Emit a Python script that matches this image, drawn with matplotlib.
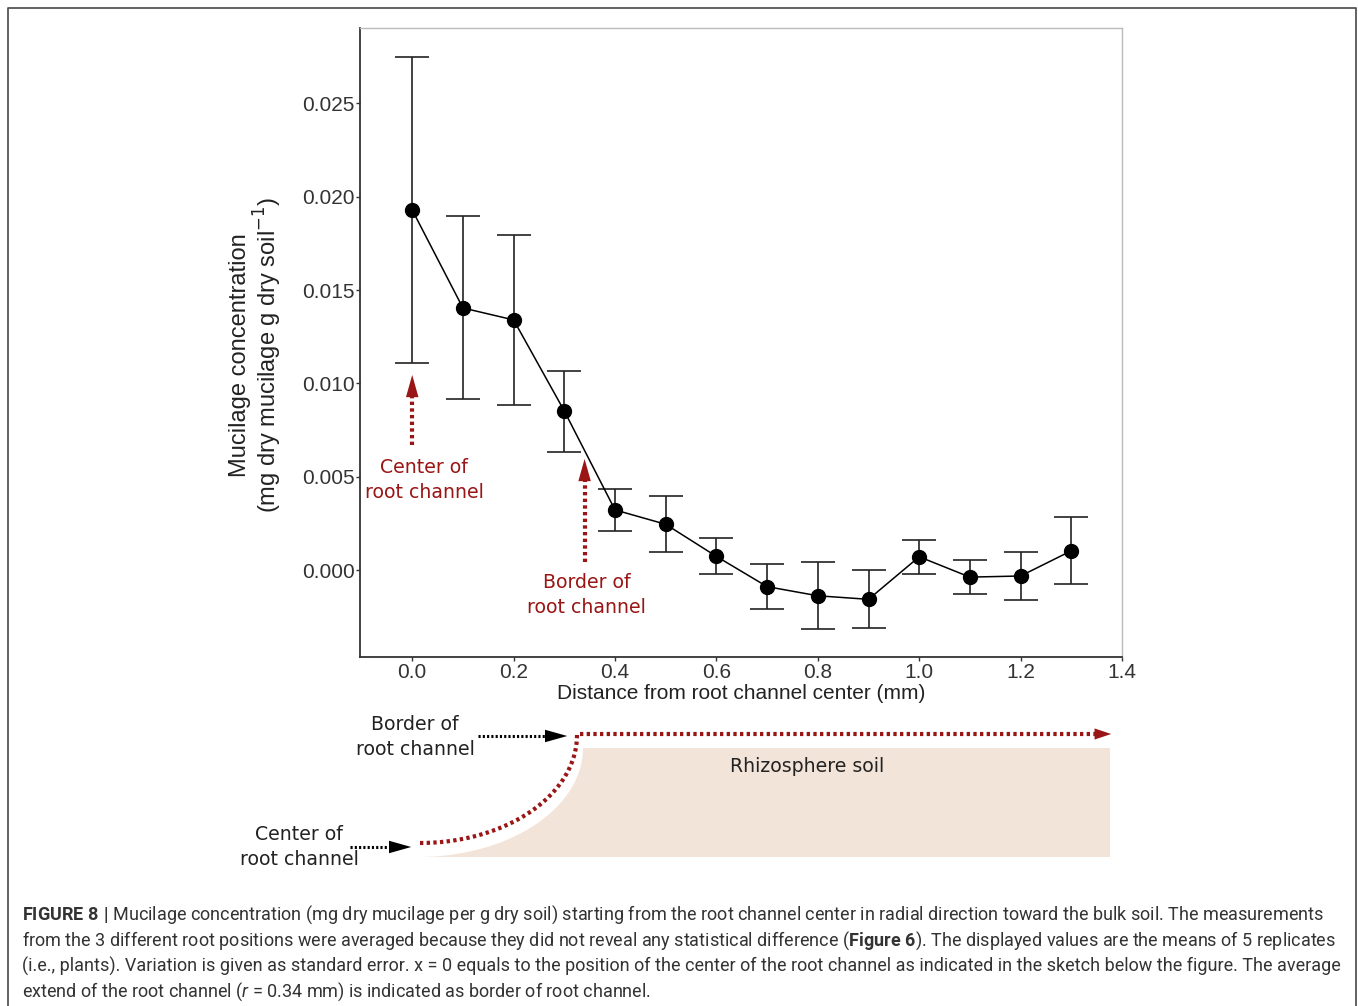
import numpy as np
import matplotlib
matplotlib.use('Agg')
from matplotlib import pyplot as plt
from matplotlib.patches import Polygon

# mean mucilage concentration and standard error per distance
distance = [0.0, 0.1, 0.2, 0.3, 0.4, 0.5, 0.6, 0.7, 0.8, 0.9, 1.0, 1.1, 1.2, 1.3]
mucilage = [0.01929, 0.01404, 0.01340, 0.00852, 0.00322, 0.00245, 0.00073, -0.00089,
            -0.00138, -0.00157, 0.00071, -0.00038, -0.00032, 0.00103]
se_upper = [0.00820, 0.00493, 0.00455, 0.00214, 0.00112, 0.00152, 0.00100, 0.00123,
            0.00179, 0.00155, 0.00091, 0.00092, 0.00130, 0.00179]
se_lower = [0.00820, 0.00488, 0.00456, 0.00220, 0.00113, 0.00150, 0.00094, 0.00122,
            0.00177, 0.00156, 0.00092, 0.00091, 0.00130, 0.00176]

xticks = [0.0, 0.2, 0.4, 0.6, 0.8, 1.0, 1.2, 1.4]
yticks = [0.000, 0.005, 0.010, 0.015, 0.020, 0.025]
root_radius = 0.34

caption = [
    r"$\mathbf{FIGURE\ 8\ |}$ Mucilage concentration (mg dry mucilage per g dry soil) starting from the root channel center in radial direction toward the bulk soil. The measurements",
    r"from the 3 different root positions were averaged because they did not reveal any statistical difference ($\mathbf{Figure\ 6}$). The displayed values are the means of 5 replicates",
    r"(i.e., plants). Variation is given as standard error. x = 0 equals to the position of the center of the root channel as indicated in the sketch below the figure. The average",
    r"extend of the root channel ($r$ = 0.34 mm) is indicated as border of root channel.",
]

red = '#9a1515'
ink = '#333333'
cap_font = 'Roboto'

plt.rcParams['mathtext.fontset'] = 'custom'
plt.rcParams['mathtext.rm'] = cap_font
plt.rcParams['mathtext.bf'] = cap_font + ':bold'
plt.rcParams['mathtext.it'] = cap_font + ':italic'

W, H = 1358, 1006
fig = plt.figure(figsize=(W / 100, H / 100), dpi=100)

# background layer in pixel units: frame, sketch, caption
sk = fig.add_axes([0, 0, 1, 1], zorder=0)
sk.set_xlim(0, W)
sk.set_ylim(H, 0)
sk.axis('off')

sk.plot([8, 8, 1356, 1356], [1010, 8, 8, 1010], color='#555555', lw=1.3, solid_capstyle='butt')

# rhizosphere soil block with curved channel edge
t = np.linspace(0, np.pi / 2, 60)
cx = 418 + 165 * np.sin(t)
cy = 748 + 109 * np.cos(t)
soil = np.vstack([np.column_stack([cx, cy]), [[1110, 748], [1110, 857], [418, 857]]])
sk.add_patch(Polygon(soil, closed=True, facecolor='#f3e4d9', edgecolor='none'))

ex = 420 + 157 * np.sin(t)
ey = 735 + 108 * np.cos(t)
sk.plot(ex, ey, color=red, lw=3, ls=(0, (0.8, 0.8)))
sk.plot([580, 1098], [734, 734], color=red, lw=3, ls=(0, (0.8, 0.8)))
sk.annotate('', xy=(1114, 734), xytext=(1094, 734),
            arrowprops=dict(arrowstyle='-|>,head_length=1.2,head_width=0.4', color=red, lw=0))

for x0, x1, y in [(478, 548, 736), (350, 392, 847)]:
    sk.plot([x0, x1], [y, y], color='black', lw=2.2, ls=(0, (0.7, 0.7)))
    sk.annotate('', xy=(x1 + 22, y), xytext=(x1 - 4, y),
                arrowprops=dict(arrowstyle='-|>,head_length=1.6,head_width=0.45', color='black', lw=0))

sk.text(415, 737, 'Border of\nroot channel', ha='center', va='center', fontsize=13.6,
        family='DejaVu Sans', color='#222222', linespacing=1.45)
sk.text(299, 847, 'Center of\nroot channel', ha='center', va='center', fontsize=13.6,
        family='DejaVu Sans', color='#222222', linespacing=1.45)
sk.text(807, 766, 'Rhizosphere soil', ha='center', va='center', fontsize=13.6,
        family='DejaVu Sans', color='#222222')

cap_texts = []
for i, line in enumerate(caption):
    cap_texts.append(sk.text(22, 915 + i * 25.5, line, ha='left', va='center', fontsize=12,
                             family=cap_font, color=ink))

# main plot
ax = fig.add_axes([360 / W, 1 - 657 / H, 762 / W, 629 / H], zorder=1)
ax.errorbar(distance, mucilage, yerr=[se_lower, se_upper], fmt='o-', color='black',
            ecolor='#222222', elinewidth=1.2, capsize=12, capthick=1.2, lw=1.1, markersize=10)

ax.set_xlim(-0.103, 1.4)
ax.set_ylim(-0.00466, 0.02904)
ax.set_xticks(xticks)
ax.set_yticks(yticks)
ax.set_xticklabels(['%.1f' % v for v in xticks])
ax.set_yticklabels(['%.3f' % v for v in yticks])
ax.tick_params(length=3, width=1, colors='#333333', labelsize=15, pad=1)
for lab in ax.get_xticklabels() + ax.get_yticklabels():
    lab.set_family('Liberation Sans')
for s in ['left', 'bottom']:
    ax.spines[s].set_color('#333333')
    ax.spines[s].set_linewidth(1.3)
for s in ['top', 'right']:
    ax.spines[s].set_color('#bbbbbb')
    ax.spines[s].set_linewidth(1.0)

ax.set_xlabel('Distance from root channel center (mm)', fontsize=15, family='Liberation Sans',
              color='#222222', labelpad=2)
ax.set_ylabel('Mucilage concentration\n(mg dry mucilage g dry soil$^{-1}$)', fontsize=17,
              family='Liberation Sans', color='#222222', linespacing=1.05)
ax.yaxis.label.set_math_fontfamily('dejavusans')
ax.yaxis.set_label_coords(-0.0997, 0.48)

# red markers for center and border of root channel
for xpos, y0, y1, ty, label in [(0.0, 0.0067, 0.0106, 0.00482, 'Center of\nroot channel'),
                                (root_radius, 0.00043, 0.0061, -0.00134, 'Border of\nroot channel')]:
    ax.plot([xpos, xpos], [y0, y1 - 0.0012], color=red, lw=3, ls=(0, (0.8, 0.8)))
    ax.annotate('', xy=(xpos, y1), xytext=(xpos, y1 - 0.0016),
                arrowprops=dict(arrowstyle='-|>,head_length=1.6,head_width=0.45', color=red, lw=0))
    ax.text(xpos + 0.024 if xpos == 0 else xpos + 0.004, ty, label, ha='center', va='center',
            fontsize=13.6, family='DejaVu Sans', color=red, linespacing=1.45)

# fit caption width to the frame (first line runs to about x = 1326)
fig.canvas.draw()
w = cap_texts[0].get_window_extent().width
for txt in cap_texts:
    txt.set_fontsize(12 * 1304 / w)

fig.savefig('out.png', dpi=100)
